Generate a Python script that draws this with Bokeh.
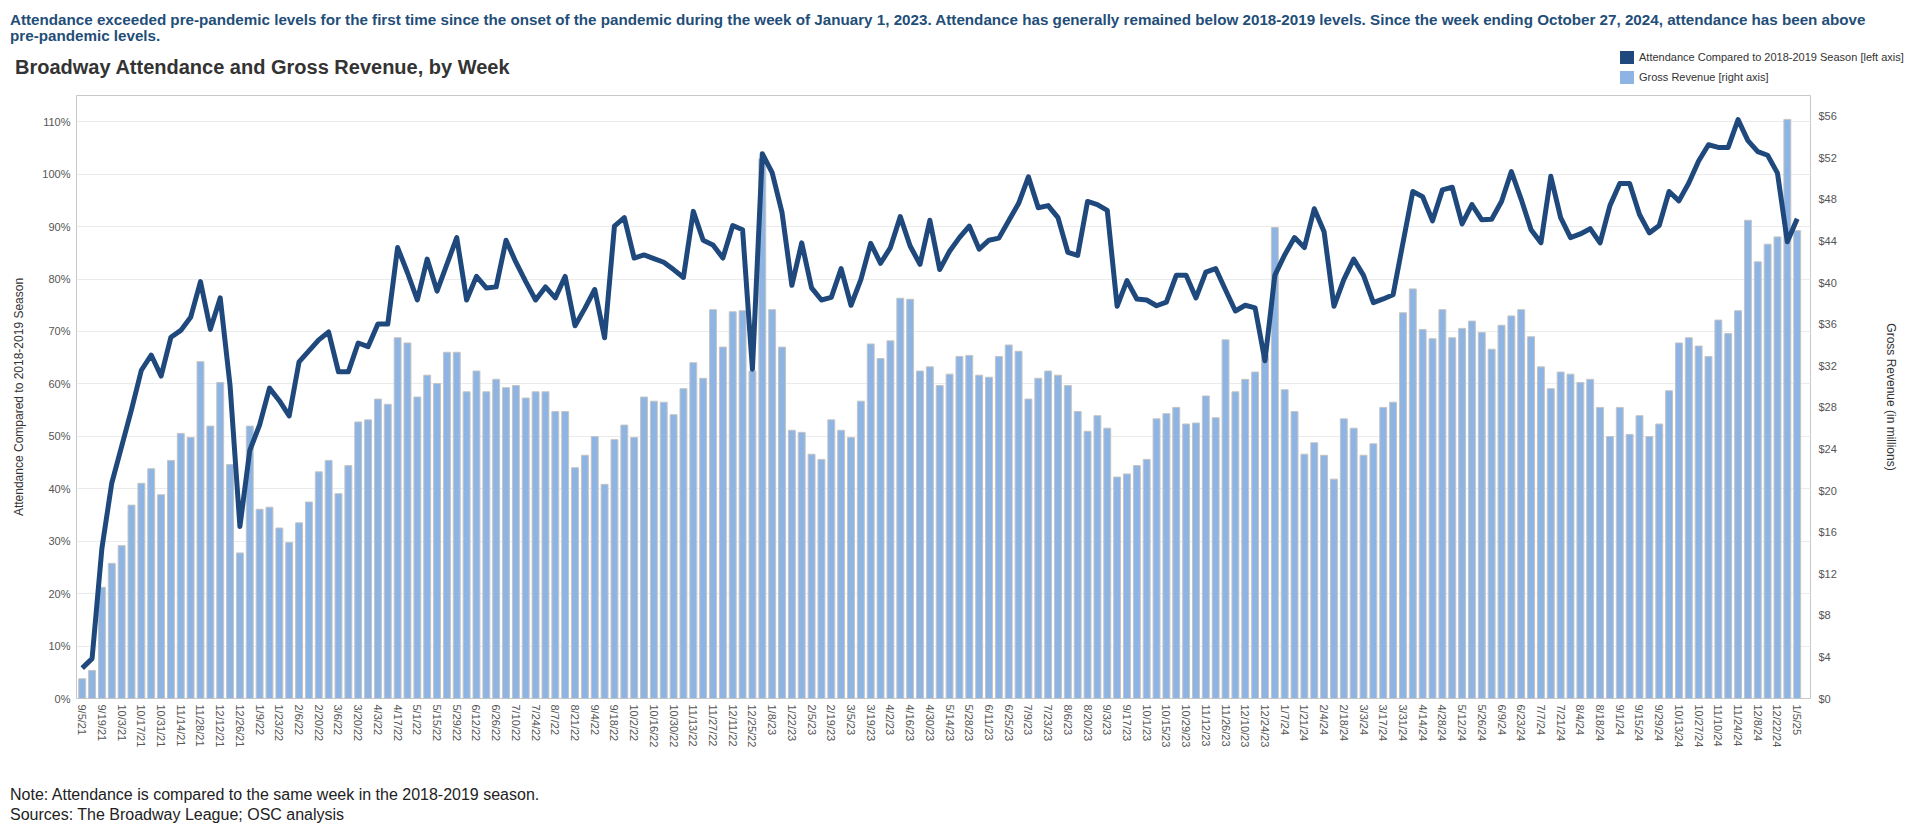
import pandas as pd
from bokeh.plotting import figure
from bokeh.layouts import column
from bokeh.models import (Range1d, LinearAxis, FixedTicker, NumeralTickFormatter,
                          ColumnDataSource, Div)
from bokeh.embed import file_html
from bokeh.resources import INLINE

# ---------------- data ----------------
week_dates = pd.date_range("2021-09-05", "2025-01-05", freq="7D")
weeks = [f"{d.month}/{d.day}/{d.year % 100}" for d in week_dates]

# Attendance compared to same week of 2018-2019 season (%)
attendance_pct = [
    5.8, 7.6, 28.7, 41.1, 48.1, 55.1, 62.6, 65.5, 61.5, 68.9,
    70.2, 72.7, 79.5, 70.4, 76.4, 59.7, 32.8, 47.3, 52.2, 59.2,
    56.8, 53.9, 64.2, 66.3, 68.4, 69.9, 62.3, 62.3, 67.8, 67.1,
    71.4, 71.4, 86.0, 81.2, 76.0, 83.8, 77.7, 82.8, 87.9, 76.0,
    80.5, 78.3, 78.5, 87.4, 83.2, 79.5, 76.0, 78.5, 76.4, 80.5,
    71.1, 74.4, 78.0, 68.8, 90.1, 91.7, 84.0, 84.6, 83.9, 83.2,
    81.8, 80.3, 92.9, 87.4, 86.5, 84.0, 90.2, 89.4, 62.8, 103.9,
    100.3, 92.7, 78.8, 86.9, 78.3, 76.0, 76.5, 82.0, 75.0, 79.9,
    86.8, 83.0, 86.0, 91.9, 86.3, 82.8, 91.2, 81.8, 85.3, 87.9,
    90.1, 85.7, 87.4, 87.8, 91.1, 94.4, 99.5, 93.6, 94.0, 91.7,
    85.1, 84.5, 94.8, 94.2, 93.1, 74.8, 79.7, 76.2, 76.0, 74.9,
    75.6, 80.7, 80.7, 76.4, 81.3, 82.0, 77.9, 73.9, 75.0, 74.5,
    64.4, 80.7, 84.6, 87.9, 86.0, 93.4, 89.0, 74.8, 79.9, 83.8,
    80.7, 75.5, 76.2, 77.0, 86.9, 96.7, 95.7, 91.1, 97.0, 97.5,
    90.5, 94.2, 91.3, 91.4, 94.8, 100.5, 95.2, 89.4, 86.9, 99.6,
    91.7, 87.9, 88.6, 89.6, 86.9, 94.0, 98.2, 98.2, 92.3, 88.8,
    90.2, 96.7, 94.9, 98.3, 102.5, 105.6, 105.1, 105.1, 110.4, 106.4,
    104.3, 103.6, 100.2, 87.1, 91.5,
]

# Gross revenue (millions of dollars)
gross_revenue = [
    1.9, 2.7, 10.7, 13.0, 14.7, 18.6, 20.7, 22.1, 19.6, 22.9,
    25.5, 25.1, 32.4, 26.2, 30.4, 22.5, 14.0, 26.2, 18.2, 18.4,
    16.4, 15.0, 16.9, 18.9, 21.8, 22.9, 19.7, 22.4, 26.6, 26.8,
    28.8, 28.3, 34.7, 34.2, 29.0, 31.1, 30.3, 33.3, 33.3, 29.5,
    31.5, 29.5, 30.7, 29.9, 30.1, 28.9, 29.5, 29.5, 27.6, 27.6,
    22.2, 23.4, 25.2, 20.6, 24.9, 26.3, 25.1, 29.0, 28.6, 28.5,
    27.3, 29.8, 32.3, 30.8, 37.4, 33.8, 37.2, 37.3, 31.5, 51.9,
    37.4, 33.8, 25.8, 25.6, 23.5, 23.0, 26.8, 25.8, 25.1, 28.6,
    34.1, 32.7, 34.4, 38.5, 38.4, 31.5, 31.9, 30.1, 31.2, 32.9,
    33.0, 31.1, 30.9, 32.9, 34.0, 33.4, 28.8, 30.8, 31.5, 31.1,
    30.1, 27.6, 25.7, 27.2, 26.0, 21.3, 21.6, 22.4, 23.0, 26.9,
    27.4, 28.0, 26.4, 26.5, 29.1, 27.0, 34.5, 29.5, 30.7, 31.4,
    33.0, 45.3, 29.7, 27.6, 23.5, 24.6, 23.4, 21.1, 26.9, 26.0,
    23.4, 24.5, 28.0, 28.5, 37.1, 39.4, 35.5, 34.6, 37.4, 34.7,
    35.6, 36.3, 35.2, 33.6, 35.9, 36.8, 37.4, 34.8, 31.9, 29.8,
    31.4, 31.2, 30.4, 30.7, 28.0, 25.2, 28.0, 25.4, 27.2, 25.2,
    26.4, 29.6, 34.2, 34.7, 33.9, 32.9, 36.4, 35.1, 37.3, 46.0,
    42.0, 43.7, 44.4, 55.7, 45.0,
]

pct_ticks = [0, 0.1, 0.2, 0.3, 0.4, 0.5, 0.6, 0.7, 0.8, 0.9, 1.0, 1.1]
rev_ticks = [0, 4, 8, 12, 16, 20, 24, 28, 32, 36, 40, 44, 48, 52, 56]

header_1 = ("Attendance exceeded pre-pandemic levels for the first time since the onset of the pandemic "
            "during the week of January 1, 2023. Attendance has generally remained below 2018-2019 levels. "
            "Since the week ending October 27, 2024, attendance has been above")
header_2 = "pre-pandemic levels."
chart_title = "Broadway Attendance and Gross Revenue, by Week"
note_1 = "Note: Attendance is compared to the same week in the 2018-2019 season."
note_2 = "Sources: The Broadway League; OSC analysis"
legend_labels = ["Attendance Compared to 2018-2019 Season [left axis]", "Gross Revenue [right axis]"]

# ---------------- styles ----------------
FONT = "Liberation Sans"
DARK = "#1f497d"
LIGHT = "#8db4e2"
GREY_TXT = "#555555"
AXIS_GREY = "#c8c8c8"
W = 1904

# ---------------- top block (header, title, legend) ----------------
top_html = f"""
<div style="position:relative;width:{W}px;height:94px;font-family:'{FONT}',Arial,sans-serif;">
  <div style="position:absolute;left:10px;top:12px;font-size:15.2px;font-weight:bold;color:#1f4e79;
              line-height:15.5px;white-space:nowrap;">{header_1}<br>{header_2}</div>
  <div style="position:absolute;left:15px;top:55px;font-size:20px;font-weight:bold;color:#333333;
              line-height:24px;white-space:nowrap;">{chart_title}</div>
  <div style="position:absolute;left:1620px;top:51px;width:14px;height:13px;background:{DARK};"></div>
  <div style="position:absolute;left:1639px;top:50px;font-size:11px;line-height:15px;color:#333333;
              white-space:nowrap;">{legend_labels[0]}</div>
  <div style="position:absolute;left:1620px;top:71px;width:14px;height:13px;background:{LIGHT};"></div>
  <div style="position:absolute;left:1639px;top:70px;font-size:11px;line-height:15px;color:#333333;
              white-space:nowrap;">{legend_labels[1]}</div>
</div>
"""
top_div = Div(text=top_html, width=W, height=94, margin=0)

# ---------------- chart ----------------
idx = list(range(len(weeks)))
src = ColumnDataSource(dict(x=idx, week=weeks,
                            att=[v / 100 for v in attendance_pct],
                            rev=gross_revenue))

p = figure(width=W, height=676,
           x_range=Range1d(-0.58, len(weeks) + 0.35),
           y_range=Range1d(0, 1.15),
           output_backend="svg", toolbar_location=None,
           min_border_left=76, min_border_right=94,
           min_border_top=1, min_border_bottom=72, margin=0)
p.extra_y_ranges = {"rev": Range1d(0, 58)}

p.outline_line_color = AXIS_GREY
p.xgrid.grid_line_color = None
p.ygrid.grid_line_color = "#ebebeb"
p.ygrid.ticker = FixedTicker(ticks=pct_ticks)

p.vbar(x="x", top="rev", width=0.7, source=src, y_range_name="rev",
       fill_color=LIGHT, line_color="#c4c4c4", line_width=1)
p.line(x="x", y="att", source=src, line_color=DARK, line_width=5,
       line_join="round")

xa = p.xaxis[0]
xa.ticker = FixedTicker(ticks=idx[::2])
xa.major_label_overrides = {i: weeks[i] for i in idx[::2]}
xa.major_label_orientation = "vertical"

ya = p.yaxis[0]
ya.ticker = FixedTicker(ticks=pct_ticks)
ya.formatter = NumeralTickFormatter(format="0%")
ya.axis_label = "Attendance Compared to 2018-2019 Season"
ya.axis_label_standoff = 13

ra = LinearAxis(y_range_name="rev", ticker=FixedTicker(ticks=rev_ticks),
                formatter=NumeralTickFormatter(format="$0"),
                axis_label="Gross Revenue (in millions)")
ra.axis_label_standoff = 44
p.add_layout(ra, "right")

for ax, standoff in ((xa, 6), (ya, 6), (ra, 8)):
    ax.axis_line_color = None
    ax.major_tick_line_color = None
    ax.minor_tick_line_color = None
    ax.major_tick_in = 0
    ax.major_tick_out = 0
    ax.minor_tick_out = 0
    ax.major_label_standoff = standoff
    ax.major_label_text_font = FONT
    ax.major_label_text_font_size = "11px"
    ax.major_label_text_color = GREY_TXT
    ax.axis_label_text_font = FONT
    ax.axis_label_text_font_size = "12px"
    ax.axis_label_text_font_style = "normal"
    ax.axis_label_text_color = "#333333"

# ---------------- bottom block (notes) ----------------
bottom_html = f"""
<div style="position:relative;width:{W}px;height:60px;font-family:'{FONT}',Arial,sans-serif;">
  <div style="position:absolute;left:10px;top:15px;font-size:16px;line-height:20px;color:#222222;
              white-space:nowrap;">{note_1}<br>{note_2}</div>
</div>
"""
bottom_div = Div(text=bottom_html, width=W, height=60, margin=0)

layout = column(top_div, p, bottom_div, spacing=0)
open("out.html", "w").write(file_html(layout, INLINE))
